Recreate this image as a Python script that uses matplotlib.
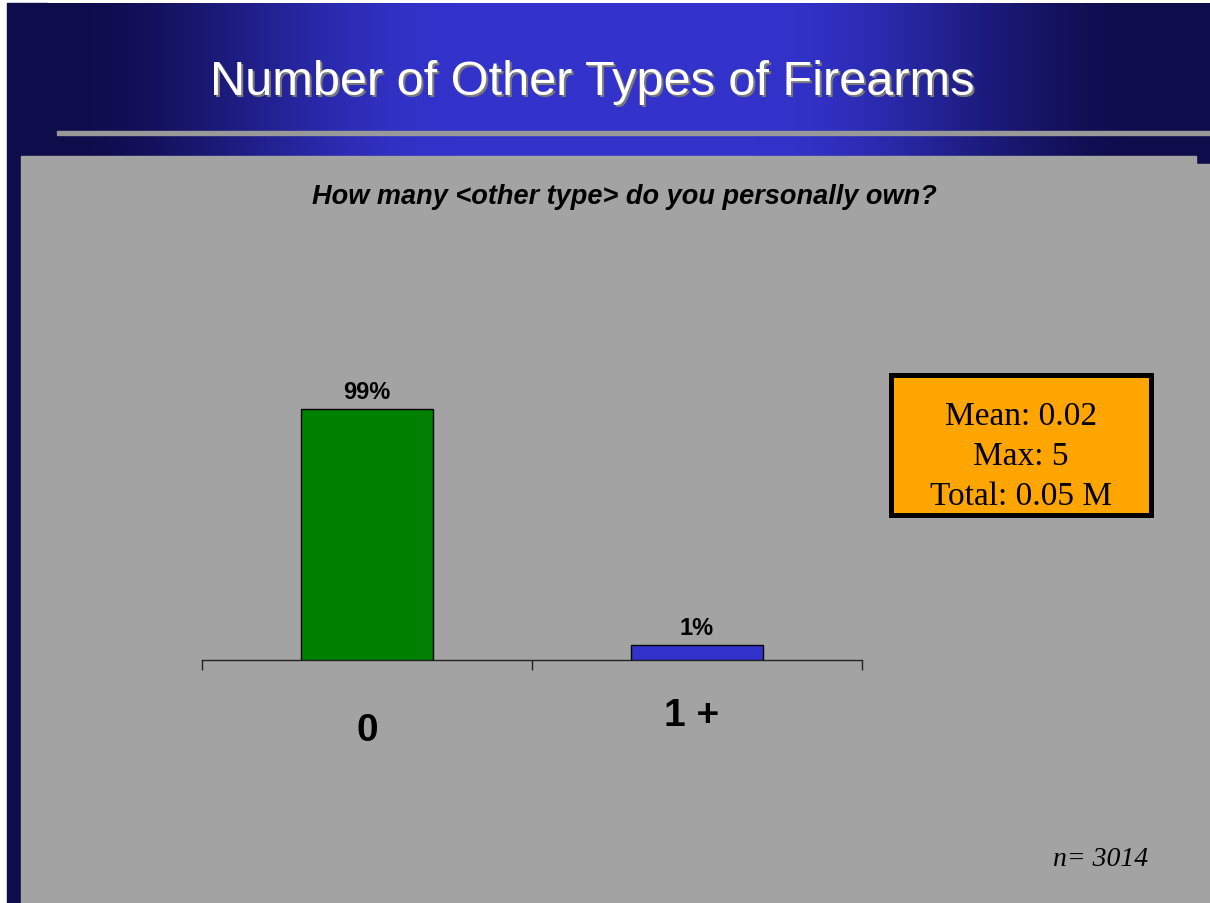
import numpy as np
import matplotlib
matplotlib.use('Agg')
import matplotlib.pyplot as plt
from matplotlib.patches import Rectangle

########################################################################################################################
# data
########################################################################################################################
categories = ["0", "1 +"]
bar_heights = [99, 6]
bar_labels = ["99%", "1%"]
bar_colors = ["#008000", "#3333cc"]
cat_label_offset = [(0, -57.6), (-4, -46.8)]   # the "0" sits lower than "1 +" in the original

title = "Number of Other Types of Firearms"
question = "How many <other type> do you personally own?"
stats_lines = ["Mean: 0.02", "Max: 5", "Total: 0.05 M"]
sample_note = "n= 3014"

W, H = 1210, 904
SANS = "Liberation Sans"
SERIF = "Liberation Serif"

fig = plt.figure(figsize=(W / 100, H / 100), dpi=100, facecolor="white")

########################################################################################################################
# slide background (pixel coordinates)
########################################################################################################################
bg = fig.add_axes([0, 0, 1, 1])
bg.set_xlim(0, W)
bg.set_ylim(H, 0)
bg.axis("off")

dark = np.array([14, 12, 74]) / 255.0
bright = np.array([51, 51, 204]) / 255.0
px = np.arange(7, W)
t = np.clip((550 - np.abs(px - 605)) / 400.0, 0, 1)
t = t * t * (3 - 2 * t)
grad = dark[None, :] + (bright - dark)[None, :] * t[:, None]
bg.imshow(grad[None, :, :], extent=[7, W, H, 4], aspect="auto", zorder=0)
bg.add_patch(Rectangle((7, 4), 40, H, color=dark, zorder=1))

# separator line under the title
bg.add_patch(Rectangle((57, 132), W - 57, 4, color="#999999", zorder=2))

# grey content panel
bg.add_patch(Rectangle((21, 157), 1175, H - 157, color="#a3a3a3", zorder=2))
bg.add_patch(Rectangle((1196, 165), W - 1196, H - 165, color="#a3a3a3", zorder=2))

# title with a small shadow
bg.text(594, 97, title, color="#7a7a7a", fontsize=35, family=SANS, ha="center", va="baseline", zorder=3)
bg.text(592, 95, title, color="white", fontsize=35, family=SANS, ha="center", va="baseline", zorder=4)

bg.text(624, 204, question, fontsize=19.5, family=SANS, weight="bold", style="italic",
        ha="center", va="baseline", zorder=4)

# stats box
bg.add_patch(Rectangle((891, 376), 260, 140, facecolor="#ffa500", edgecolor="black", linewidth=3.6, zorder=3))
for i, line in enumerate(stats_lines):
    bg.text(1021, 425 + 40 * i, line, fontsize=24, family=SERIF, ha="center", va="baseline", zorder=4)

bg.text(1053, 866, sample_note, fontsize=20, family=SERIF, style="italic", ha="left", va="baseline", zorder=4)

########################################################################################################################
# bar chart
########################################################################################################################
ax_left, ax_right, ax_bottom, ax_top = 202, 862, 661, 407.5
ax = fig.add_axes([ax_left / W, (H - ax_bottom) / H, (ax_right - ax_left) / W, (ax_bottom - ax_top) / H])
ax.patch.set_visible(False)

x = np.arange(len(categories))
bars = ax.bar(x, bar_heights, width=0.4, color=bar_colors, edgecolor="black", linewidth=1, zorder=3)

ax.set_xlim(-0.5, len(categories) - 0.5)
ax.set_ylim(0, 100)

for spine in ["top", "left", "right"]:
    ax.spines[spine].set_visible(False)
ax.spines["bottom"].set_color("#222222")
ax.spines["bottom"].set_linewidth(1)

ax.set_xticks(np.arange(len(categories) + 1) - 0.5)
ax.set_xticklabels([])
ax.tick_params(axis="x", direction="out", length=7.2, width=1, color="#222222")
ax.set_yticks([])

for bar, lab in zip(bars, bar_labels):
    ax.annotate(lab, (bar.get_x() + bar.get_width() / 2, bar.get_height()), xytext=(0, 8),
                textcoords="offset points", ha="center", va="baseline",
                fontsize=17, family=SANS, weight="bold")

for xi, cat, off in zip(x, categories, cat_label_offset):
    ax.annotate(cat, (xi, 0), xycoords=("data", "axes fraction"), xytext=off,
                textcoords="offset points", ha="center", va="baseline",
                fontsize=28, family=SANS, weight="bold", annotation_clip=False)

fig.savefig("out.png", dpi=100, facecolor="white")
